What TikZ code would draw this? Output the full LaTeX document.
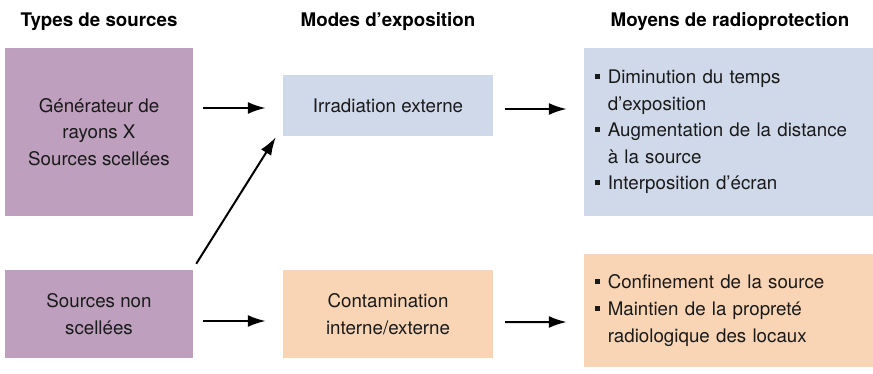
\documentclass[tikz,border=0pt]{standalone}
\usepackage{fontspec}
\setmainfont{TeX Gyre Heros}
\usetikzlibrary{arrows.meta}
\definecolor{violet}{HTML}{BEA0BE}
\definecolor{bleu}{HTML}{CFD9EA}
\definecolor{orange}{HTML}{F9D5B5}
\definecolor{encre}{HTML}{1A1A1A}
\newcommand{\puce}{\makebox[0.68em][l]{\rule[0.25em]{0.26em}{0.26em}}}
\newcommand{\retrait}{\hspace*{0.68em}}
\tikzset{
	boite/.style={inner sep=0pt, text=encre, align=center, font=\fontsize{16}{22.7}\selectfont},
	titre/.style={anchor=base, text=black, font=\fontsize{16}{19}\selectfont\bfseries},
	fleche/.style={-{Latex[length=0.54cm,width=0.36cm]}, line width=0.06cm}
}
\begin{document}
\begin{tikzpicture}
	\useasboundingbox (0,0) rectangle (26.19,11.19);
	\node[boite, fill=violet, minimum width=5.64cm, minimum height=5.04cm] (gen) at (2.97,7.23) {Générateur de\\rayons X\\Sources scellées};
	\node[boite, fill=violet, minimum width=5.64cm, minimum height=2.64cm] (nonsc) at (2.97,1.77) {Sources non\\scellées};
	\node[boite, fill=bleu, minimum width=6.3cm, minimum height=1.83cm] (irr) at (11.64,8.025) {Irradiation externe};
	\node[boite, fill=orange, minimum width=6.3cm, minimum height=2.64cm] (cont) at (11.64,1.77) {Contamination\\interne/externe};
	\node[boite, fill=bleu, minimum width=8.67cm, minimum height=5.04cm, text width=8.01cm, inner xsep=0.33cm, align=left] (prot1) at (21.855,7.23)
		{\puce Diminution du temps\\\retrait d’exposition\\\puce Augmentation de la distance\\\retrait à la source\\\puce Interposition d’écran};
	\node[boite, fill=orange, minimum width=8.67cm, minimum height=3.39cm, text width=8.01cm, inner xsep=0.33cm, align=left] (prot2) at (21.855,1.875)
		{\puce Confinement de la source\\\puce Maintien de la propreté\\\retrait radiologique des locaux};
	\node[titre] (t1) at (2.97,10.38) {Types de sources};
	\node[titre] (t2) at (11.64,10.38) {Modes d’exposition};
	\node[titre] (t3) at (21.9,10.38) {Moyens de radioprotection};
	\draw[fleche] ([xshift=0.3cm]gen.east |- irr.west) ++(0,-0.075) -- ([shift={(-0.51,-0.075)}]irr.west);
	\draw[fleche] ([shift={(0.09,0.18)}]nonsc.north east) -- ([shift={(-0.21,-0.03)}]irr.south west);
	\draw[fleche] ([shift={(0.3,-0.21)}]nonsc.east) -- ([shift={(-0.51,-0.21)}]cont.west);
	\draw[fleche] ([shift={(0.36,-0.105)}]irr.east) -- ([xshift=-0.51cm]prot1.west |- 0,7.92);
	\draw[fleche] ([shift={(0.36,-0.24)}]cont.east) -- ([shift={(-0.51,-0.345)}]prot2.west);
\end{tikzpicture}
\end{document}
